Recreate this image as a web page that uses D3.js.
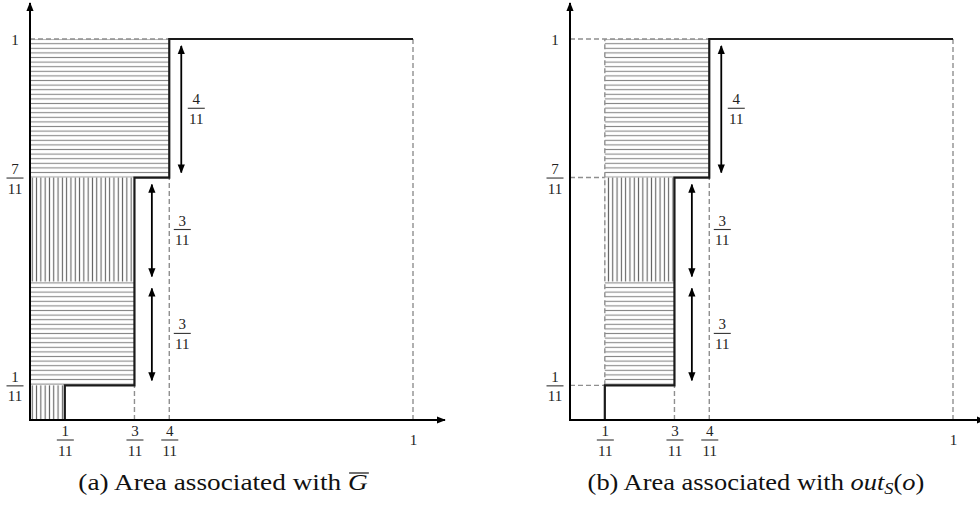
<!DOCTYPE html>
<html>
<head>
<meta charset="utf-8">
<script src="https://cdn.jsdelivr.net/npm/d3@7"></script>
<style>
    body { margin: 0; background: #fff; }
    svg { display: block; }
</style>
</head>
<body>
<div id="chart"></div>
<script>
// Step boundary (same in both panels)
const stepX = [1/11, 1/11, 3/11, 3/11, 4/11, 4/11, 1];
const stepY = [0, 1/11, 1/11, 7/11, 7/11, 1, 1];

// tick values and their (fraction) labels
const xTicks = [1/11, 3/11, 4/11, 1];
const xTickLabels = [["1", "11"], ["3", "11"], ["4", "11"], ["1"]];
const yTicks = [1/11, 7/11, 1];
const yTickLabels = [["1", "11"], ["7", "11"], ["1"]];

// hatched areas: [x0, x1, y0, y1, direction]
const hatchA = [
    [0, 4/11, 7/11, 1, "h"],
    [0, 3/11, 4/11, 7/11, "v"],
    [0, 3/11, 1/11, 4/11, "h"],
    [0, 1/11, 0, 1/11, "v"]
];
const hatchB = [
    [1/11, 4/11, 7/11, 1, "h"],
    [1/11, 3/11, 4/11, 7/11, "v"],
    [1/11, 3/11, 1/11, 4/11, "h"]
];

// dashed guides: [x0, y0, x1, y1]
const guidesA = [
    [0, 1, 4/11, 1],
    [3/11, 0, 3/11, 1/11],
    [4/11, 0, 4/11, 7/11],
    [1, 0, 1, 1]
];
const guidesB = [
    [0, 1, 4/11, 1],
    [0, 7/11, 1/11, 7/11],
    [0, 1/11, 1/11, 1/11],
    [1/11, 1/11, 1/11, 1],
    [3/11, 0, 3/11, 1/11],
    [4/11, 0, 4/11, 7/11],
    [1, 0, 1, 1]
];

// double arrows: [from, to, label]
const spans = [
    [7/11, 1, ["4", "11"]],
    [4/11, 7/11, ["3", "11"]],
    [1/11, 4/11, ["3", "11"]]
];

const svgWidth = 980, svgHeight = 507;
const plotW = 383;
const labelFont = "'Liberation Serif', 'DejaVu Serif', serif";

const svg = d3.select("#chart")
    .append("svg")
    .attr("width", svgWidth)
    .attr("height", svgHeight);

const defs = svg.append("defs");

// arrow head
defs.append("marker")
    .attr("id", "head")
    .attr("markerUnits", "userSpaceOnUse")
    .attr("viewBox", "0 0 10 8")
    .attr("refX", 9)
    .attr("refY", 4)
    .attr("markerWidth", 9)
    .attr("markerHeight", 8)
    .attr("orient", "auto-start-reverse")
    .append("path")
    .attr("d", "M0,0 L10,4 L0,8 Z")
    .attr("fill", "#000");

// hatch patterns
const ph = defs.append("pattern")
    .attr("id", "hatch-h")
    .attr("patternUnits", "userSpaceOnUse")
    .attr("width", 8)
    .attr("height", 4.6);
ph.append("line")
    .attr("x1", 0).attr("x2", 8)
    .attr("y1", 2.3).attr("y2", 2.3)
    .attr("stroke", "#888")
    .attr("stroke-width", 1.1);

const pv = defs.append("pattern")
    .attr("id", "hatch-v")
    .attr("patternUnits", "userSpaceOnUse")
    .attr("width", 4.3)
    .attr("height", 8);
pv.append("line")
    .attr("y1", 0).attr("y2", 8)
    .attr("x1", 2.15).attr("x2", 2.15)
    .attr("stroke", "#5e5e5e")
    .attr("stroke-width", 1.1);

// Function - draw a stacked fraction (or a single number)
function drawFrac(g, parts, cx, cy) {
    if (parts.length === 1) {
        g.append("text")
            .attr("x", cx).attr("y", cy + 5)
            .attr("text-anchor", "middle")
            .style("font", "15px " + labelFont)
            .attr("fill", "#222")
            .text(parts[0]);
        return;
    }
    g.append("text")
        .attr("x", cx).attr("y", cy - 4)
        .attr("text-anchor", "middle")
        .style("font", "15px " + labelFont)
        .attr("fill", "#222")
        .text(parts[0]);
    g.append("line")
        .attr("x1", cx - 8.5).attr("x2", cx + 8.5)
        .attr("y1", cy).attr("y2", cy)
        .attr("stroke", "#333")
        .attr("stroke-width", 1.1);
    g.append("text")
        .attr("x", cx).attr("y", cy + 15.5)
        .attr("text-anchor", "middle")
        .style("font", "15px " + labelFont)
        .attr("fill", "#222")
        .text(parts[1]);
}

const panels = [
    { ox: 30, hatch: hatchA, guides: guidesA, captionX: 223, captionW: 290, caption: "a" },
    { ox: 570, hatch: hatchB, guides: guidesB, captionX: 756, captionW: 337, caption: "b" }
];

panels.forEach(function(p) {
    const x = d3.scaleLinear().domain([0, 1]).range([p.ox, p.ox + plotW]);
    const y = d3.scaleLinear().domain([0, 1]).range([420, 39]);

    const g = svg.append("g");

    // hatching
    g.selectAll("rect.hatch")
        .data(p.hatch)
        .enter().append("rect")
        .attr("class", "hatch")
        .attr("x", d => x(d[0]))
        .attr("y", d => y(d[3]))
        .attr("width", d => x(d[1]) - x(d[0]))
        .attr("height", d => y(d[2]) - y(d[3]))
        .attr("fill", d => d[4] === "h" ? "url(#hatch-h)" : "url(#hatch-v)");

    // dashed guides
    g.selectAll("line.guide")
        .data(p.guides)
        .enter().append("line")
        .attr("class", "guide")
        .attr("x1", d => x(d[0])).attr("y1", d => y(d[1]))
        .attr("x2", d => x(d[2])).attr("y2", d => y(d[3]))
        .attr("stroke", "#8f8f8f")
        .attr("stroke-width", 1.4)
        .attr("stroke-dasharray", "5,3");

    // step boundary
    const line = d3.line()
        .x(d => x(d[0]))
        .y(d => y(d[1]));
    g.append("path")
        .datum(d3.zip(stepX, stepY))
        .attr("d", line)
        .attr("fill", "none")
        .attr("stroke", "#1a1a1a")
        .attr("stroke-width", 2.2);

    // axes lines with arrows
    g.append("line")
        .attr("x1", x(0)).attr("y1", y(0))
        .attr("x2", x(0)).attr("y2", 3)
        .attr("stroke", "#000").attr("stroke-width", 2)
        .attr("marker-end", "url(#head)");
    g.append("line")
        .attr("x1", x(0) - 1).attr("y1", y(0))
        .attr("x2", x(0) + 415).attr("y2", y(0))
        .attr("stroke", "#000").attr("stroke-width", 2)
        .attr("marker-end", "url(#head)");

    // tick labels through d3 axes
    const xAxis = d3.axisBottom(x)
        .tickValues(xTicks)
        .tickSize(0)
        .tickFormat("");
    const xg = g.append("g")
        .attr("transform", `translate(0,${y(0)})`)
        .call(xAxis);
    xg.select(".domain").remove();
    xg.selectAll(".tick").each(function(d, i) {
        drawFrac(d3.select(this), xTickLabels[i], 0, 20);
    });

    const yAxis = d3.axisLeft(y)
        .tickValues(yTicks)
        .tickSize(0)
        .tickFormat("");
    const yg = g.append("g")
        .attr("transform", `translate(${x(0)},0)`)
        .call(yAxis);
    yg.select(".domain").remove();
    yg.selectAll(".tick").each(function(d, i) {
        drawFrac(d3.select(this), yTickLabels[i], -15, 0);
    });

    // double arrows with their lengths
    spans.forEach(function(s, i) {
        const ax = i === 0 ? x(4/11) + 12 : (x(3/11) + x(4/11)) / 2;
        const lx = i === 0 ? x(4/11) + 27 : x(4/11) + 13;
        g.append("line")
            .attr("x1", ax).attr("x2", ax)
            .attr("y1", y(s[1]) + 7).attr("y2", y(s[0]) - 5)
            .attr("stroke", "#000")
            .attr("stroke-width", 1.8)
            .attr("marker-start", "url(#head)")
            .attr("marker-end", "url(#head)");
        drawFrac(g, s[2], lx, (y(s[0]) + y(s[1])) / 2);
    });

    // caption (widened horizontally to match the wide serif of the original)
    const capG = g.append("g");
    const cap = capG.append("text")
        .attr("x", 0)
        .attr("y", 0)
        .attr("text-anchor", "middle")
        .attr("fill", "#111")
        .style("font", "23px " + labelFont);

    if (p.caption === "a") {
        cap.append("tspan").text("(a) Area associated with ");
        cap.append("tspan").style("font-style", "italic").text("G");
    } else {
        cap.append("tspan").text("(b) Area associated with ");
        cap.append("tspan").style("font-style", "italic").text("out");
        cap.append("tspan").style("font-style", "italic").style("font-size", "16px")
            .attr("dy", 4).text("S");
        cap.append("tspan").attr("dy", -4).text("(");
        cap.append("tspan").style("font-style", "italic").text("o");
        cap.append("tspan").text(")");
    }
    const bb = cap.node().getBBox();
    const sx = p.captionW / bb.width;
    capG.attr("transform", `translate(${p.captionX},490) scale(${sx},1)`);

    if (p.caption === "a") {
        const n = cap.node();
        const ext = n.getExtentOfChar(n.getNumberOfChars() - 1);
        capG.append("line")
            .attr("x1", ext.x + 1).attr("x2", ext.x + ext.width + 1)
            .attr("y1", -17).attr("y2", -17)
            .attr("stroke", "#111")
            .attr("stroke-width", 1.2);
    }
});
</script>
</body>
</html>
